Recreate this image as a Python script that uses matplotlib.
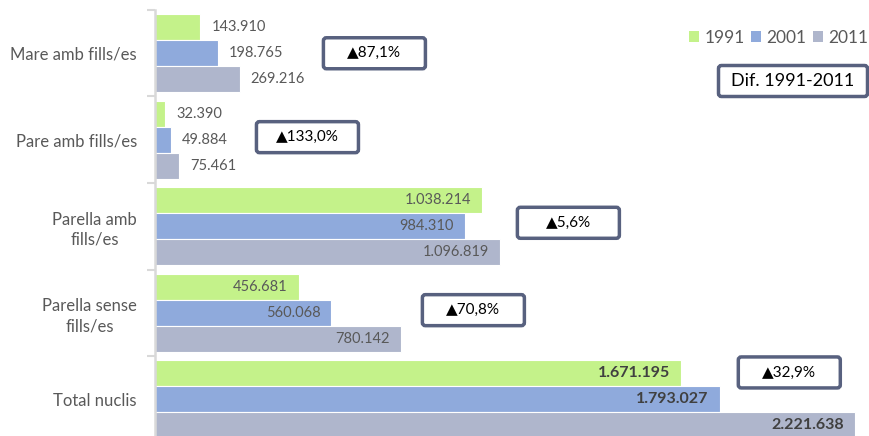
import matplotlib
matplotlib.use('Agg')
import matplotlib.pyplot as plt
from matplotlib.patches import FancyBboxPatch, Patch
from matplotlib.transforms import IdentityTransform

plt.rcParams['font.family'] = ['Lato', 'DejaVu Sans']

categories = ["Mare amb fills/es", "Pare amb fills/es", "Parella amb\nfills/es",
              "Parella sense\nfills/es", "Total nuclis"]
years = ["1991", "2001", "2011"]
v1991 = [143910, 32390, 1038214, 456681, 1671195]
v2001 = [198765, 49884, 984310, 560068, 1793027]
v2011 = [269216, 75461, 1096819, 780142, 2221638]
series = [v1991, v2001, v2011]

colors = ['#c4f28a', '#8faadc', '#afb6cc']
box_ec = '#58617f'
text_col = '#595959'

W, H, DPI = 870, 436, 100
fig = plt.figure(figsize=(W / DPI, H / DPI), dpi=DPI)
ax = fig.add_axes([155 / W, (H - 442.5) / H, 715 / W, 432.5 / H])

bh = 0.3
for j, vals in enumerate(series):
    ys = [i + (j - 1) * bh for i in range(len(categories))]
    ax.barh(ys, vals, height=bh, color=colors[j], edgecolor='white', linewidth=0.8, zorder=2)
    for i, (y, v) in enumerate(zip(ys, vals)):
        s = f"{v:,}".replace(',', '.')
        bold = categories[i] == "Total nuclis"
        if v > 300000:
            ax.annotate(s, xy=(v, y), xytext=(-11, 0), textcoords='offset pixels',
                        ha='right', va='center', fontsize=11.5 if bold else 10.5,
                        color='#404040' if bold else text_col,
                        fontweight='bold' if bold else 'normal', zorder=3)
        else:
            ax.annotate(s, xy=(v, y), xytext=(11, 0), textcoords='offset pixels',
                        ha='left', va='center', fontsize=10.5, color=text_col, zorder=3)

ax.set_xlim(0, 2.27e6)
ax.set_ylim(len(categories) - 0.5, -0.5)
ax.set_yticks(range(len(categories)))
ax.set_yticklabels(categories)
for lab in ax.get_yticklabels():
    lab.set_multialignment('center')
    lab.set_linespacing(1.3)
ax.set_yticks([k - 0.5 for k in range(len(categories) + 1)], minor=True)
ax.tick_params(axis='y', which='major', length=0, pad=13, labelsize=12, labelcolor=text_col)
ax.tick_params(axis='y', which='minor', length=6, width=1.5, color='#d9d9d9')
ax.set_xticks([])
for side in ['top', 'right', 'bottom']:
    ax.spines[side].set_visible(False)
ax.spines['left'].set_color('#d9d9d9')
ax.spines['left'].set_linewidth(1.8)

# Difference boxes (1991 -> 2011)
box_cx = [696600, 484000, 1312400, 1010800, 2013800]
box_dy = [0.0, -0.03, -0.04, -0.03, -0.31]
bw, bhp = 105, 34
fig.canvas.draw()
for i in range(len(categories)):
    pct = (v2011[i] / v1991[i] - 1) * 100
    s = "▲" + f"{pct:.1f}".replace('.', ',') + "%"
    cx, cy = ax.transData.transform((box_cx[i], i + box_dy[i]))
    p = FancyBboxPatch((cx - bw / 2 + 1.5, cy - bhp / 2 + 1.5), bw - 3, bhp - 3,
                       boxstyle='round,pad=0,rounding_size=3', fc='white', ec=box_ec,
                       lw=2.5, transform=IdentityTransform(), zorder=5)
    fig.add_artist(p)
    fig.text(cx / W, cy / H, s, ha='center', va='center', fontsize=11, color='black', zorder=6)

# Dif. label box
dcx, dcy = 793, H - 81
p = FancyBboxPatch((dcx - 152 / 2 + 1.5, dcy - bhp / 2 + 1.5), 152 - 3, bhp - 3,
                   boxstyle='round,pad=0,rounding_size=3', fc='white', ec=box_ec,
                   lw=2.5, transform=IdentityTransform(), zorder=5)
fig.add_artist(p)
fig.text(dcx / W, dcy / H, "Dif. 1991-2011", ha='center', va='center', fontsize=13,
         color='black', zorder=6)

handles = [Patch(facecolor=c, edgecolor='none') for c in colors]
fig.legend(handles, years, loc='center right', bbox_to_anchor=(0.998, 1 - 38 / H),
           ncol=3, frameon=False, fontsize=12.5, labelcolor=text_col,
           handlelength=0.6, handleheight=0.6, handletextpad=0.3, columnspacing=0.35,
           borderpad=0, borderaxespad=0)

fig.savefig('out.png', dpi=DPI)
